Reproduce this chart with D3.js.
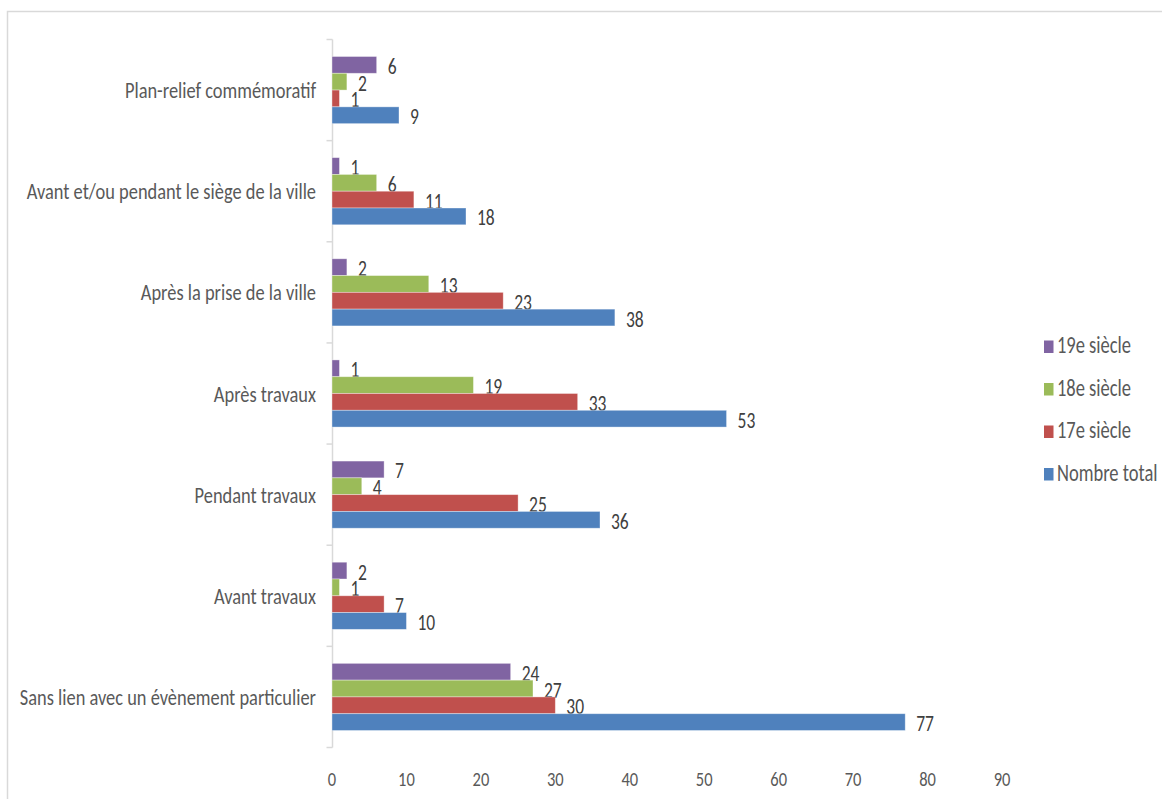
<!DOCTYPE html>
<html>
<head>
<meta charset="utf-8">
<script src="https://cdn.jsdelivr.net/npm/d3@7"></script>
<style>
  body { margin: 0; background: #fff; }
  svg text { font-family: Carlito, "Liberation Sans Narrow", "DejaVu Sans Condensed", sans-serif; }
</style>
</head>
<body>
<div id="canvas"></div>
<script>
const categories = [
  "Plan-relief commémoratif",
  "Avant et/ou pendant le siège de la ville",
  "Après la prise de la ville",
  "Après travaux",
  "Pendant travaux",
  "Avant travaux",
  "Sans lien avec un évènement particulier"
];
const seriesNames = ["19e siècle", "18e siècle", "17e siècle", "Nombre total"];
const siecle19 = [6, 1, 2, 1, 7, 2, 24];
const siecle18 = [2, 6, 13, 19, 4, 1, 27];
const siecle17 = [1, 11, 23, 33, 25, 7, 30];
const total = [9, 18, 38, 53, 36, 10, 77];
const xTicks = [0, 10, 20, 30, 40, 50, 60, 70, 80, 90];

const colors = ["#8064A2", "#9BBB59", "#C0504D", "#4F81BD"];
const seriesValues = [siecle19, siecle18, siecle17, total];

// the original picture is a bit stretched vertically, text too
const stretch = 1.27;
const tr = (px, py) => "translate(" + px + "," + py + ") scale(1," + stretch + ")";

let svg = d3.select("#canvas")
  .append("svg")
    .attr("width", 1162)
    .attr("height", 799);

// chart border
svg.append("rect")
  .attr("x", 7.5).attr("y", 11.5)
  .attr("width", 1170).attr("height", 800)
  .attr("fill", "none")
  .attr("stroke", "#d9d9d9")
  .attr("stroke-width", 1.5);

let x = d3.scaleLinear().domain([0, 90]).range([332, 1002]);
let y = d3.scaleBand().domain(categories).range([39.5, 747.5]);
let inner = d3.scaleBand().domain(seriesNames).range([17, y.bandwidth() - 17]);

// value axis labels
svg.selectAll(".xt")
  .data(xTicks)
  .enter()
  .append("text")
    .attr("transform", d => tr(x(d), 786))
    .attr("text-anchor", "middle")
    .attr("font-size", 16.5)
    .attr("fill", "#595959")
    .text(d => d);

// category axis
let yAxis = svg.append("g")
  .attr("transform", "translate(332.5,0)");
yAxis.append("line")
  .attr("y1", 39.5).attr("y2", 747.5)
  .attr("stroke", "#d9d9d9").attr("stroke-width", 1.5);
yAxis.selectAll("line.tk")
  .data(d3.range(categories.length + 1))
  .enter()
  .append("line")
    .attr("class", "tk")
    .attr("x1", -6).attr("x2", 0)
    .attr("y1", i => 39.5 + i * y.step())
    .attr("y2", i => 39.5 + i * y.step())
    .attr("stroke", "#d9d9d9").attr("stroke-width", 1.5);
svg.selectAll(".cat")
  .data(categories)
  .enter()
  .append("text")
    .attr("transform", d => tr(316, y(d) + y.bandwidth() / 2 + 8))
    .attr("text-anchor", "end")
    .attr("font-size", 18.4)
    .attr("fill", "#595959")
    .text(d => d);

// bars
let groups = svg.selectAll(".grp")
  .data(seriesNames)
  .enter()
  .append("g");

groups.each(function(s, si) {
  let g = d3.select(this);
  let vals = seriesValues[si];
  g.selectAll("rect")
    .data(categories)
    .enter()
    .append("rect")
      .attr("x", x(0))
      .attr("y", (c) => y(c) + inner(s))
      .attr("width", (c, i) => x(vals[i]) - x(0))
      .attr("height", inner.bandwidth())
      .attr("fill", colors[si])
      .attr("stroke", "rgba(255,255,255,0.45)")
      .attr("stroke-width", 0.8);
  g.selectAll("text")
    .data(categories)
    .enter()
    .append("text")
      .attr("transform", (c, i) => tr(x(vals[i]) + 11, y(c) + inner(s) + inner.bandwidth() / 2 + 9))
      .attr("font-size", 17.5)
      .attr("fill", "#404040")
      .text((c, i) => vals[i]);
});

// legend
let legend = svg.selectAll(".leg")
  .data(seriesNames)
  .enter()
  .append("g")
    .attr("transform", (d, i) => "translate(1044," + (347 + i * 42.5) + ")");
legend.append("rect")
  .attr("x", 0).attr("y", -6.5)
  .attr("width", 9.5).attr("height", 12.5)
  .attr("fill", (d, i) => colors[i]);
legend.append("text")
  .attr("transform", tr(13, 6))
  .attr("font-size", 18.5)
  .attr("fill", "#595959")
  .text(d => d);
</script>
</body>
</html>
